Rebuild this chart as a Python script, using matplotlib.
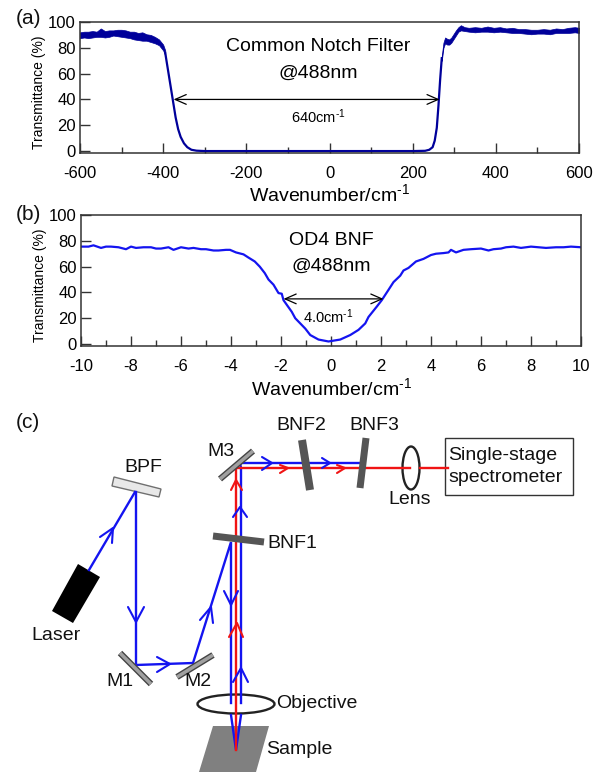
"""
Notch filter transmittance curves and the optical layout sketch.
"""

import matplotlib.pyplot as plt
from matplotlib.patches import Ellipse, Polygon, Rectangle

FIG_PATH = "out.png"
W, H = 605, 772

BLUE = "#1414f0"
NAVY = "#00009a"
RED = "#f01414"
DARK = "#555555"
SPINE = "#333333"

# (a) common notch filter, the clean part of the curve
a_x = [-395, -388, -382, -376, -370, -364, -358, -350, -342, -332, -320, -300, -200, 0, 200, 230, 240,
       248, 253, 258, 262, 266, 270]
a_y = [76, 62, 50, 38, 26, 17, 11, 6, 3, 1, 0.3, 0, 0, 0, 0, 0.2, 1,
       3, 8, 18, 35, 55, 72]

# (a) noisy edges of the trace
left_x = [-600, -590, -580, -570, -560, -550, -540, -530, -520, -510, -500, -490, -480, -470, -460,
          -450, -440, -430, -420, -410, -400, -395]
left_top = [92, 92.5, 92.5, 93, 92.5, 95, 93, 93.5, 93.5, 94, 94, 93.5, 92.5, 92.5, 91.5,
            92, 90.5, 90, 88.5, 86.5, 82.5, 78]
left_bot = [87.5, 88, 87.5, 88, 88.5, 88.5, 88, 88.5, 89.5, 89, 88.5, 88, 87.5, 86.5, 86,
            85.5, 85.5, 84.5, 83.5, 82, 78, 74]
right_x = [270, 274, 278, 283, 288, 293, 298, 304, 310, 316, 325, 335, 350, 365, 380, 395, 410, 425,
           440, 455, 470, 485, 500, 515, 530, 545, 560, 575, 590, 600]
right_top = [74, 84, 88, 87, 86.5, 88, 90.5, 93.5, 96, 97.5, 96, 95.5, 96, 95.5, 96.5, 95.5, 96, 95,
             95.5, 94.5, 94.5, 94, 94, 94.5, 94, 95, 94.5, 95.5, 96, 95.5]
right_bot = [70, 80, 83.5, 82.5, 82.5, 84, 86.5, 89.5, 92.5, 93.5, 93, 92.5, 92, 92.5, 92.5, 92, 92.5, 92,
             91.5, 91.5, 91, 90.5, 91, 91, 90.5, 91.5, 91.5, 91.5, 92, 91.5]

# (b) OD4 BNF
b_x = [-10, -9.7, -9.5, -9.2, -9, -8.8, -8.5, -8.2, -8, -7.8, -7.5, -7.2, -7, -6.8, -6.5, -6.3,
       -6, -5.7, -5.5, -5.2, -5, -4.7, -4.5, -4.2, -4.04, -3.8, -3.5, -3.3, -3.05, -2.85, -2.65, -2.5,
       -2.3, -2.1, -1.97, -1.9, -1.57, -1.43, -1.03, -0.83, -0.5, -0.1, 0.37, 0.77, 1.1,
       1.37, 1.5, 1.83, 2.03, 2.3, 2.5, 2.77, 2.9, 3.1, 3.4, 3.7, 4, 4.2, 4.5, 4.7, 4.8, 5, 5.3,
       5.6, 6, 6.3, 6.5, 6.8, 7, 7.3, 7.6, 8, 8.3, 8.6, 9, 9.3, 9.6, 10]
b_y = [75.5, 75.5, 76.5, 74.5, 75.5, 75.5, 75, 73.5, 75.5, 74.5, 75, 75, 74, 74, 75, 73,
       75, 74, 74.5, 73.5, 73.5, 72.5, 72.5, 73, 73, 71, 69.5, 67, 64, 60, 55, 50,
       46, 39.5, 39, 34, 25, 20, 12, 7, 3.5, 2, 3.5, 7, 11,
       16, 21, 29, 34, 42, 48, 53, 57, 59, 64, 66, 69, 70, 70.5, 71, 73, 71, 73,
       73.5, 74, 72.5, 73.5, 74, 75, 75.5, 74.5, 75.5, 75, 74.5, 75, 75, 75.5, 75]

# (c) optical layout, in picture pixels
laser_box = [(78, 564), (100, 577), (73, 623), (52, 611)]
bpf_box = [(114, 477), (161, 489), (159, 497), (112, 486)]
sample_box = [(213, 726), (269, 726), (256, 772), (199, 772)]
gray_mirrors = [((220, 479), (253, 451)), ((120, 653), (151, 684)), ((177, 677), (213, 655))]
dark_filters = [((302, 440), (310, 490), 8), ((366, 438), (360, 488), 7), ((213, 536), (264, 542), 7)]
blue_beams = [
    [(89, 570), (135, 492)],
    [(136, 492), (136, 665), (193, 663), (231, 542), (231, 703)],
    [(231, 715), (236, 750), (241, 715)],
    [(241, 703), (241, 468), (240, 463), (360, 463)],
]
red_beams = [
    [(236, 750), (236, 468), (410, 468)],
    [(420, 468), (448, 468)],
]
blue_chevrons = [
    ((100, 537), (113, 528), (112, 543)),
    ((128, 607), (136, 622), (144, 607)),
    ((157, 657), (170, 664), (157, 672)),
    ((200, 620), (211, 607), (213, 623)),
    ((224, 591), (231, 605), (238, 591)),
    ((233, 517), (240, 507), (247, 517)),
    ((233, 682), (241, 668), (248, 682)),
    ((262, 457), (272, 463), (262, 470)),
    ((322, 458), (330, 463), (322, 468)),
]
red_chevrons = [
    ((229, 637), (237, 623), (243, 637)),
    ((231, 490), (236, 480), (242, 490)),
    ((280, 465), (288, 468), (280, 473)),
    ((337, 465), (345, 468), (337, 473)),
]
labels = [
    ("BPF", 143, 467, "center"), ("M3", 221, 452, "center"),
    ("BNF2", 301, 426, "center"), ("BNF3", 374, 426, "center"), ("Lens", 410, 499, "center"),
    ("Single-stage", 448, 455, "left"), ("spectrometer", 448, 477, "left"),
    ("BNF1", 267, 544, "left"), ("Laser", 56, 636, "center"), ("M1", 120, 681, "center"),
    ("M2", 198, 681, "center"), ("Objective", 276, 704, "left"), ("Sample", 266, 750, "left"),
]
panel_labels = [("(a)", 16, 19), ("(b)", 16, 215), ("(c)", 16, 422)]
INV_CM = "Wavenumber/cm$^{\\text{-}1}$"


def make_axes(fig, left, top, right, bottom):
    return fig.add_axes([left / W, 1 - bottom / H, (right - left) / W, (bottom - top) / H])


def style_axes(ax, xlim, major, minor, label_gap):
    ax.set_xlim(*xlim)
    ax.set_ylim(-1.5, 100)
    ax.set_xticks(major)
    ax.set_xticks(minor, minor=True)
    ax.set_yticks(range(0, 101, 20))
    ax.tick_params(axis="both", which="major", direction="in", length=7, width=1, color=SPINE, labelsize=12)
    ax.tick_params(axis="x", which="major", pad=9)
    ax.tick_params(axis="x", which="minor", direction="in", length=4, width=1, color=SPINE)
    ax.tick_params(axis="y", pad=3)
    for spine in ax.spines.values():
        spine.set_color(SPINE)
        spine.set_linewidth(1.1)
    ax.set_xlabel(INV_CM, fontsize=14, labelpad=label_gap)
    ax.set_ylabel("Transmittance (%)", fontsize=10)
    ax.yaxis.set_label_coords(-0.068, 0.46)


def draw_chevrons(ax, chevrons, color):
    for chevron in chevrons:
        ax.plot(*zip(*chevron), color=color, lw=1.5, solid_capstyle="round")


def draw_layout(ax):
    ax.set_xlim(0, W)
    ax.set_ylim(H, 0)
    ax.axis("off")

    ax.add_patch(Polygon(sample_box, color="#808080", lw=0))
    ax.add_patch(Polygon(laser_box, color="black", lw=0))
    ax.add_patch(Polygon(bpf_box, facecolor="#e8e8e8", edgecolor="#707070", lw=1))

    for beam in blue_beams:
        ax.plot(*zip(*beam), color=BLUE, lw=1.7, solid_joinstyle="miter")
    for beam in red_beams:
        ax.plot(*zip(*beam), color=RED, lw=1.7)
    draw_chevrons(ax, blue_chevrons, BLUE)
    draw_chevrons(ax, red_chevrons, RED)

    for start, end in gray_mirrors:
        ax.plot(*zip(start, end), color="#444444", lw=4.5, solid_capstyle="butt")
        ax.plot(*zip(start, end), color="#a0a0a0", lw=2.5, solid_capstyle="butt")
    for start, end, width in dark_filters:
        ax.plot(*zip(start, end), color=DARK, lw=width * 0.72, solid_capstyle="butt")

    ax.add_patch(Ellipse((236, 704), 77, 19, facecolor="none", edgecolor="#222222", lw=1.7))
    ax.add_patch(Ellipse((411, 468), 17, 43, facecolor="none", edgecolor="#222222", lw=1.7))
    ax.add_patch(Rectangle((445, 438), 128, 57, facecolor="none", edgecolor="#333333", lw=1))

    for text, x, y, align in labels:
        ax.text(x, y, text, fontsize=14, ha=align, va="center", color="#111111")
    for text, x, y in panel_labels:
        ax.text(x, y, text, fontsize=15, ha="left", va="center", color="#111111")


def main() -> None:
    plt.rcParams["font.family"] = ["Liberation Sans", "DejaVu Sans"]
    plt.rcParams["mathtext.fontset"] = "custom"
    plt.rcParams["mathtext.rm"] = "Liberation Sans"
    plt.rcParams["mathtext.default"] = "regular"
    plt.rcParams["axes.unicode_minus"] = False

    fig = plt.figure(figsize=(W / 100, H / 100), dpi=100)
    arrow = dict(arrowstyle="<->,head_length=0.8,head_width=0.35", color="black", lw=0.9, shrinkA=0, shrinkB=0)

    ax_a = make_axes(fig, 80, 22, 579, 153)
    ax_a.fill_between(left_x, left_bot, left_top, color=NAVY, lw=0.5)
    ax_a.fill_between(right_x, right_bot, right_top, color=NAVY, lw=0.5)
    ax_a.plot(a_x, a_y, color=NAVY, lw=1.6)
    style_axes(ax_a, (-600, 600), range(-600, 601, 200), range(-500, 600, 200), 2)
    ax_a.annotate("", xy=(-375, 40), xytext=(265, 40), arrowprops=arrow)
    ax_a.text(-27, 81, "Common Notch Filter", fontsize=14, ha="center", va="center")
    ax_a.text(-27, 60.5, "@488nm", fontsize=14, ha="center", va="center")
    ax_a.text(-28, 27, "640cm$^{\\text{-}1}$", fontsize=10.5, ha="center", va="center")

    ax_b = make_axes(fig, 81, 215, 581, 346)
    ax_b.plot(b_x, b_y, color=BLUE, lw=1.6)
    style_axes(ax_b, (-10, 10), range(-10, 11, 2), range(-9, 10, 2), 3)
    ax_b.annotate("", xy=(-1.9, 35), xytext=(2.1, 35), arrowprops=arrow)
    ax_b.text(0, 80.5, "OD4 BNF", fontsize=14, ha="center", va="center")
    ax_b.text(0, 60, "@488nm", fontsize=14, ha="center", va="center")
    ax_b.text(-0.1, 21, "4.0cm$^{\\text{-}1}$", fontsize=10.5, ha="center", va="center")

    overlay = fig.add_axes([0, 0, 1, 1], facecolor="none")
    draw_layout(overlay)

    fig.savefig(FIG_PATH, dpi=100)
    plt.close(fig)


if __name__ == "__main__":
    main()
